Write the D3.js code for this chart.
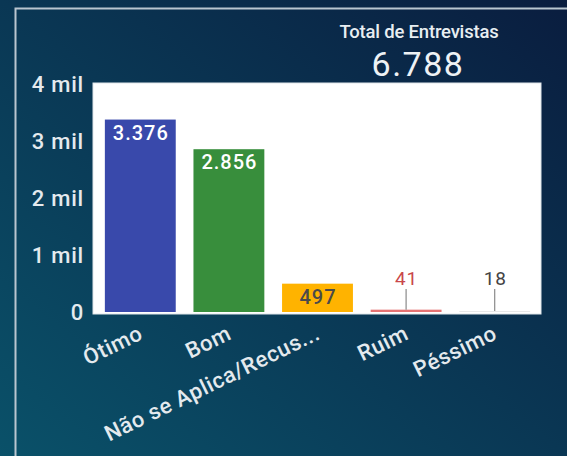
<!DOCTYPE html>
<html>
<head>
<meta charset="utf-8">
<script src="https://cdn.jsdelivr.net/npm/d3@7"></script>
<style>
  html, body { margin: 0; padding: 0; overflow: hidden; }
  body { width: 567px; height: 456px; }
  text { font-family: Roboto, "Noto Sans", sans-serif; }
</style>
</head>
<body>
<svg id="chart" width="567" height="456"></svg>
<script>
// Avaliação - total de entrevistas por resposta
const categorias = ["Ótimo", "Bom", "Não se Aplica/Recus...", "Ruim", "Péssimo"];
const valores = [3376, 2856, 497, 41, 18];
const cores = ["#3949ab", "#388e3c", "#ffb300", "#e57373", "#e8e8e8"];
const coresRotulo = ["#ffffff", "#ffffff", "#4a4a4a", "#c9474a", "#444444"];
const ticksY = [0, 1000, 2000, 3000, 4000];
const rotulosY = ["0", "1 mil", "2 mil", "3 mil", "4 mil"];
const totalEntrevistas = "6.788";

const svg = d3.select("#chart");

// Fond dégradé
const defs = svg.append("defs");
const grad = defs.append("linearGradient")
    .attr("id", "fond")
    .attr("x1", "0%").attr("y1", "100%")
    .attr("x2", "100%").attr("y2", "0%");
grad.append("stop").attr("offset", "0%").attr("stop-color", "#0a5169");
grad.append("stop").attr("offset", "100%").attr("stop-color", "#0a1d3f");

svg.append("rect")
    .attr("width", 567).attr("height", 456)
    .attr("fill", "url(#fond)");

// Bordure du visuel
svg.append("path")
    .attr("d", "M15.5,456 V8.5 H567")
    .attr("fill", "none")
    .attr("stroke", "#b9c6d0")
    .attr("stroke-width", 2);

// Total
svg.append("text")
    .attr("x", 419).attr("y", 38)
    .attr("text-anchor", "middle")
    .attr("font-size", "18.5px")
    .attr("font-weight", 500)
    .attr("fill", "#e8eef2")
    .attr("letter-spacing", "-0.2px")
    .text("Total de Entrevistas");
svg.append("text")
    .attr("x", 418).attr("y", 76)
    .attr("text-anchor", "middle")
    .attr("font-size", "34px")
    .attr("letter-spacing", "1.5px")
    .attr("fill", "#eef2f5")
    .text(totalEntrevistas);

// Zone du graphique
const plot = {left: 93, right: 541, top: 83, bottom: 314};

svg.append("rect")
    .attr("x", plot.left).attr("y", plot.top)
    .attr("width", plot.right - plot.left)
    .attr("height", plot.bottom - plot.top)
    .attr("fill", "#ffffff")
    .attr("stroke", "#dfe6ea")
    .attr("stroke-width", 1);

const x = d3.scaleBand()
    .domain(categorias)
    .range([96, 539])
    .paddingInner(0.2)
    .paddingOuter(0.1);

const y = d3.scaleLinear()
    .domain([0, 4000])
    .range([312, 84]);

// Axe Y
const axeY = d3.axisLeft(y)
    .tickValues(ticksY)
    .tickFormat((d, i) => rotulosY[i])
    .tickSize(0)
    .tickPadding(0);

const gY = svg.append("g")
    .attr("transform", "translate(84,0)")
    .call(axeY);
gY.select(".domain").remove();
gY.selectAll("text")
    .attr("font-size", "22px")
    .attr("font-weight", 500)
    .attr("letter-spacing", "0.8px")
    .attr("font-family", "Roboto, sans-serif")
    .attr("fill", "#e4eaee")
    .attr("dy", "0.36em");

// Axe X
const axeX = d3.axisBottom(x).tickSize(0).tickPadding(0);
const gX = svg.append("g")
    .attr("transform", "translate(0,314)")
    .call(axeX);
gX.select(".domain").remove();
gX.selectAll("text")
    .attr("font-size", "22px")
    .attr("font-weight", 500)
    .attr("letter-spacing", "0.6px")
    .attr("font-family", "Roboto, sans-serif")
    .attr("fill", "#e4eaee")
    .attr("text-anchor", "end")
    .attr("dy", "0.72em")
    .attr("transform", "translate(-3,10) rotate(-26)");

// Barres
const data = categorias.map((c, i) => ({cat: c, val: valores[i], cor: cores[i], corRotulo: coresRotulo[i]}));

svg.append("g").selectAll("rect")
    .data(data)
    .enter()
    .append("rect")
    .attr("x", d => x(d.cat))
    .attr("y", d => y(d.val))
    .attr("width", x.bandwidth())
    .attr("height", d => Math.max(1, y(0) - y(d.val)))
    .attr("fill", d => d.cor);

// Étiquettes de données
const fmt = d3.formatLocale({decimal: ",", thousands: ".", grouping: [3], currency: ["R$", ""]}).format(",d");

data.forEach(d => {
    const cx = x(d.cat) + x.bandwidth() / 2;
    const haut = y(0) - y(d.val);
    if (haut > 24) {
        // à l'intérieur de la barre
        svg.append("text")
            .attr("x", cx + 0.5)
            .attr("y", y(d.val) + 20)
            .attr("text-anchor", "middle")
            .attr("font-size", "20px")
            .attr("font-weight", 500)
            .attr("letter-spacing", "1px")
            .attr("fill", d.corRotulo)
            .text(fmt(d.val));
    } else {
        // au-dessus, avec trait de rappel
        svg.append("line")
            .attr("x1", cx).attr("x2", cx)
            .attr("y1", 289).attr("y2", y(d.val))
            .attr("stroke", "#8a8a8a")
            .attr("stroke-width", 1.2);
        svg.append("text")
            .attr("x", cx + 0.5)
            .attr("y", 285)
            .attr("text-anchor", "middle")
            .attr("font-size", "19px")
            .attr("letter-spacing", "0.8px")
            .attr("fill", d.corRotulo)
            .text(fmt(d.val));
    }
});
</script>
</body>
</html>
